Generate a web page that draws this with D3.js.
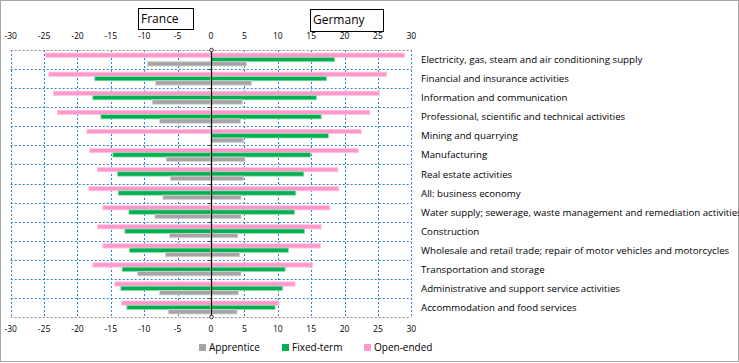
<!DOCTYPE html>
<html>
<head>
<meta charset="utf-8">
<script src="https://cdn.jsdelivr.net/npm/d3@7"></script>
<style>
  html, body { margin: 0; padding: 0; background: #fff; }
  svg { display: block; font-family: "Open Sans", "Noto Sans", sans-serif; }
</style>
</head>
<body>
<div id="chart"></div>
<script>
// Apprenticeship / contract type by sector — France (left, negative) vs Germany (right)

const categories = [
  'Electricity, gas, steam and air conditioning supply',
  'Financial and insurance activities',
  'Information and communication',
  'Professional, scientific and technical activities',
  'Mining and quarrying',
  'Manufacturing',
  'Real estate activities',
  'All: business economy',
  'Water supply; sewerage, waste management and remediation activities',
  'Construction',
  'Wholesale and retail trade; repair of motor vehicles and motorcycles',
  'Transportation and storage',
  'Administrative and support service activities',
  'Accommodation and food services'
];

// France values drawn to the left (negative)
const franceOpen   = [-24.8, -24.3, -23.6, -23.0, -18.6, -18.2, -17.0, -18.3, -16.2, -17.0, -16.2, -17.7, -14.4, -13.4];
const franceFixed  = [0, -17.4, -17.7, -16.5, 0, -14.7, -14.0, -13.9, -12.3, -12.9, -12.2, -13.3, -13.5, -12.6];
const franceAppr   = [-9.5, -8.3, -8.8, -7.7, 0, -6.7, -6.1, -7.2, -8.4, -6.2, -6.8, -11.0, -7.7, -6.4];

const germanyOpen  = [29.0, 26.3, 25.2, 23.8, 22.5, 22.1, 19.0, 19.1, 17.8, 16.5, 16.4, 15.2, 12.6, 10.2];
const germanyFixed = [18.5, 17.3, 15.8, 16.5, 17.6, 14.9, 13.9, 12.7, 12.5, 14.0, 11.6, 11.1, 10.7, 9.6];
const germanyAppr  = [5.3, 6.1, 4.7, 4.4, 4.9, 5.1, 4.9, 4.5, 4.5, 4.0, 4.3, 4.5, 4.1, 3.9];

const xTicks = d3.range(-30, 31, 5);

const series = [
  { key: 'Open-ended', fill: '#ff99cc', edge: '#ffc6e2', fr: franceOpen,  de: germanyOpen },
  { key: 'Fixed-term', fill: '#00b050', edge: '#8fdcb0', fr: franceFixed, de: germanyFixed },
  { key: 'Apprentice', fill: '#a5a5a5', edge: '#d4d4d4', fr: franceAppr,  de: germanyAppr }
];
const legendOrder = ['Apprentice', 'Fixed-term', 'Open-ended'];

const W = 739, H = 363;
const svg = d3.select('#chart').append('svg').attr('width', W).attr('height', H);

// chart border
svg.append('rect').attr('x', 0.5).attr('y', 0.5).attr('width', W - 1).attr('height', H - 2)
  .attr('fill', '#fff').attr('stroke', '#a6a6a6');

const plot = { left: 10.7, right: 411.3, top: 50, bottom: 317 };
const x = d3.scaleLinear().domain([-30, 30]).range([plot.left, plot.right]);
const y = d3.scaleBand().domain(categories).range([plot.top, plot.bottom]);
const yInner = d3.scaleBand().domain(series.map(s => s.key))
  .range([0, y.bandwidth()]).paddingInner(0).paddingOuter(0.69);

// vertical gridlines
svg.append('g').selectAll('line').data(xTicks).enter().append('line')
  .attr('x1', d => Math.round(x(d)) + 0.5).attr('x2', d => Math.round(x(d)) + 0.5)
  .attr('y1', plot.top).attr('y2', plot.bottom)
  .attr('stroke', '#2f7fd8').attr('stroke-dasharray', '2,2');

// horizontal gridlines at category boundaries
const bounds = categories.map(c => y(c)).concat([plot.bottom]);
svg.append('g').selectAll('line').data(bounds).enter().append('line')
  .attr('x1', plot.left).attr('x2', plot.right)
  .attr('y1', d => Math.round(d) + 0.5).attr('y2', d => Math.round(d) + 0.5)
  .attr('stroke', (d, i) => (i === 0 || i === bounds.length - 1) ? '#8c8c8c' : '#2f7fd8')
  .attr('stroke-dasharray', '2,2');

// bars
const bars = svg.append('g');
series.forEach(s => {
  categories.forEach((c, i) => {
    [s.fr[i], s.de[i]].forEach(v => {
      if (!v) return;
      bars.append('rect')
        .attr('x', x(Math.min(0, v)))
        .attr('y', y(c) + yInner(s.key))
        .attr('width', Math.abs(x(v) - x(0)))
        .attr('height', yInner.bandwidth())
        .attr('fill', s.fill).attr('stroke', s.edge).attr('stroke-width', 0.8);
    });
  });
});

// central axis
const x0 = Math.round(x(0)) + 0.5;
svg.append('line').attr('x1', x0).attr('x2', x0).attr('y1', plot.top).attr('y2', plot.bottom)
  .attr('stroke', '#000').attr('stroke-width', 1.2);
svg.append('g').selectAll('line').data(bounds.slice(1, -1)).enter().append('line')
  .attr('x1', x0 - 3).attr('x2', x0)
  .attr('y1', d => Math.round(d) + 0.5).attr('y2', d => Math.round(d) + 0.5)
  .attr('stroke', '#333');
svg.append('g').selectAll('circle').data([plot.top, plot.bottom]).enter().append('circle')
  .attr('cx', x0).attr('cy', d => d).attr('r', 1.8)
  .attr('fill', '#fff').attr('stroke', '#333').attr('stroke-width', 1);

// top and bottom tick labels
const fmt = d => String(d);
[37, 330].forEach(ty => {
  svg.append('g').selectAll('text').data(xTicks).enter().append('text')
    .attr('x', d => x(d)).attr('y', ty)
    .attr('text-anchor', 'middle').attr('dominant-baseline', 'middle')
    .attr('font-size', 8.5).attr('fill', '#000').text(fmt);
});

// category labels
svg.append('g').selectAll('text').data(categories).enter().append('text')
  .attr('x', 421).attr('y', c => y(c) + y.bandwidth() / 2 + 1)
  .attr('dominant-baseline', 'middle')
  .attr('font-size', 9.7).attr('fill', '#000').text(c => c);

// country boxes
const boxes = [
  { label: 'France',  x: 138, y: 8, w: 55, h: 21 },
  { label: 'Germany', x: 310, y: 9, w: 73, h: 22 }
];
boxes.forEach(b => {
  svg.append('rect').attr('x', b.x + 0.5).attr('y', b.y + 0.5).attr('width', b.w).attr('height', b.h)
    .attr('fill', '#fff').attr('stroke', '#000');
  svg.append('text').attr('x', b.x + 3).attr('y', b.y + b.h / 2 + 1)
    .attr('dominant-baseline', 'middle').attr('font-size', 12).text(b.label);
});

// legend
const legendX = { 'Apprentice': 199, 'Fixed-term': 282, 'Open-ended': 364 };
legendOrder.forEach(k => {
  const s = series.find(d => d.key === k);
  const g = svg.append('g').attr('transform', `translate(${legendX[k]},344)`);
  g.append('rect').attr('width', 7).attr('height', 7).attr('fill', s.fill);
  g.append('text').attr('x', 10).attr('y', 4).attr('dominant-baseline', 'middle')
    .attr('font-size', 10).text(k);
});
</script>
</body>
</html>
